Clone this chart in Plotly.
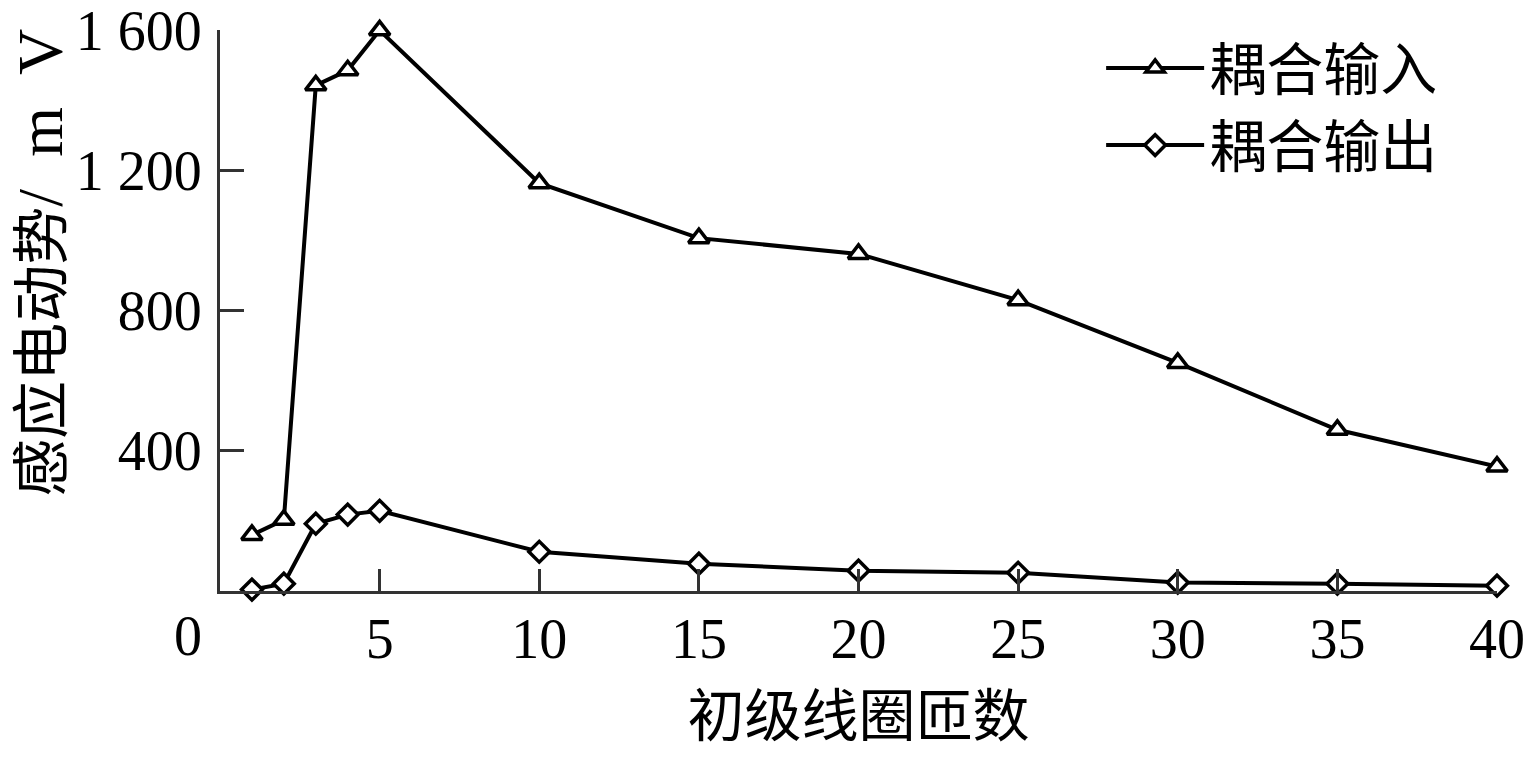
import plotly.graph_objects as go

turns = [1, 2, 3, 4, 5, 10, 15, 20, 25, 30, 35, 40]
coupling_in = [160, 203, 1443, 1486, 1600, 1164, 1007, 962, 830, 651, 460, 355]
coupling_out = [4, 21, 192, 218, 229, 112, 78, 58, 52, 24, 21, 15]

x_ticks = [5, 10, 15, 20, 25, 30, 35, 40]
y_ticks = [400, 800, 1200, 1600]
y_tick_text = ["400", "800", "1 200", "1 600"]

series_names = ["耦合输入", "耦合输出"]

serif = "Liberation Serif, Times New Roman, Noto Sans CJK SC"
cjk = "Noto Sans CJK SC, Liberation Serif"

fig = go.Figure()
fig.add_trace(go.Scatter(
    x=turns, y=coupling_in, name=series_names[0], mode="lines+markers",
    line=dict(color="black", width=4),
    marker=dict(symbol="triangle-up", size=18, color="white",
                line=dict(color="black", width=3.5)),
    cliponaxis=False,
))
fig.add_trace(go.Scatter(
    x=turns, y=coupling_out, name=series_names[1], mode="lines+markers",
    line=dict(color="black", width=4),
    marker=dict(symbol="diamond", size=16, color="white",
                line=dict(color="black", width=3.5)),
    cliponaxis=False,
))

y_title = ("感应电动势<span style=\"font-family:'Liberation Serif';font-size:64px\">"
           "/\u2002m\u2002V</span>")

fig.update_layout(
    width=1525, height=758,
    margin=dict(l=220, r=28, t=30, b=167, autoexpand=False),
    paper_bgcolor="white", plot_bgcolor="white",
    font=dict(family=serif, size=56, color="black"),
    showlegend=True,
    legend=dict(x=0.690, y=1.01, xanchor="left", yanchor="top",
                font=dict(family=cjk, size=57, color="black"),
                bgcolor="rgba(0,0,0,0)", itemwidth=98, tracegroupgap=0),
    xaxis=dict(range=[0, 40], tickvals=x_ticks, ticks="inside", ticklen=22,
               tickwidth=3, tickcolor="#333", showline=True, linewidth=3,
               linecolor="#333", showgrid=False, zeroline=False,
               ticklabelstandoff=-3, automargin=False,
               ticklabeloverflow="allow",
               tickfont=dict(family=serif, size=56),
               title=dict(text="初级线圈匝数", font=dict(family=cjk, size=57),
                          standoff=8)),
    yaxis=dict(range=[0, 1601], tickvals=y_ticks, ticktext=y_tick_text,
               ticks="inside", ticklen=24, tickwidth=3, tickcolor="#333",
               showline=True, linewidth=3, linecolor="#333", showgrid=False,
               zeroline=False, ticklabelstandoff=4, automargin=False,
               ticklabeloverflow="allow",
               tickfont=dict(family=serif, size=56)),
    annotations=[
        dict(text="0", xref="paper", yref="paper", x=-0.025, y=0,
             xanchor="center", yanchor="top", yshift=-12, showarrow=False,
             font=dict(family=serif, size=56)),
        dict(text=y_title, xref="paper", yref="paper", x=-0.143,
             y=0.586, xanchor="center", yanchor="middle", textangle=-90,
             showarrow=False, borderpad=0, font=dict(family=cjk, size=58)),
    ],
)

fig.write_html("out.html", config={"displayModeBar": False},
               post_script="document.body.style.margin='0';document.body.style.overflow='hidden';")
